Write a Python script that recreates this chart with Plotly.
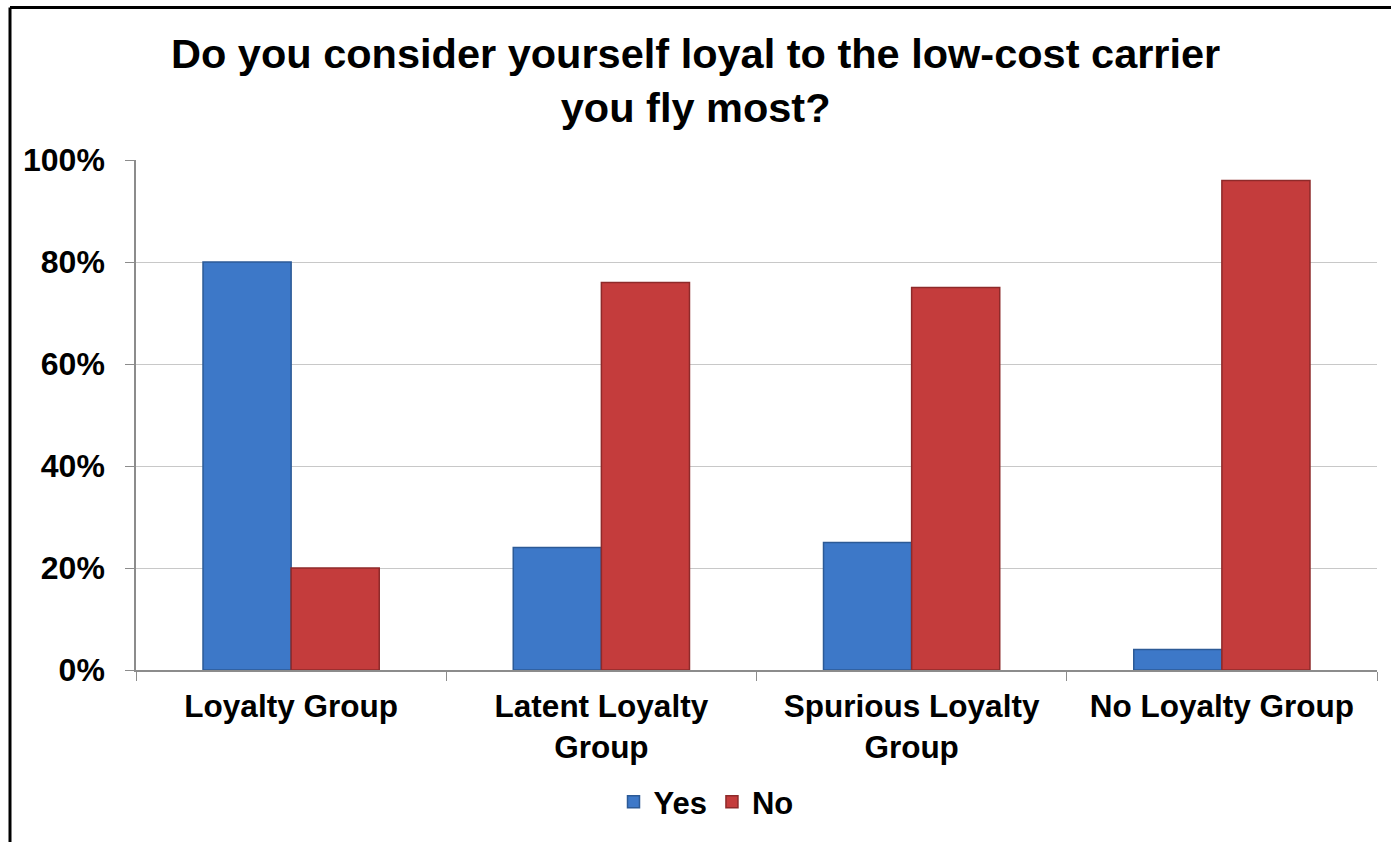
import plotly.graph_objects as go

# Survey data: share answering Yes / No per loyalty segment
categories = ["Loyalty Group", "Latent Loyalty<br>Group", "Spurious Loyalty<br>Group", "No Loyalty Group"]
yes_share = [0.80, 0.24, 0.25, 0.04]
no_share = [0.20, 0.76, 0.75, 0.96]
y_ticks = [0, 0.2, 0.4, 0.6, 0.8, 1.0]
y_tick_text = ["0%", "20%", "40%", "60%", "80%", "100%"]

W, H = 1391, 842
L, R, T, B = 136, 14, 160, 172
FONT = "Liberation Sans, Arial, sans-serif"

fig = go.Figure()
fig.add_trace(go.Bar(
    name="<b>Yes</b>", x=categories, y=yes_share,
    marker=dict(color="#3D78C8", line=dict(color="#2C5A96", width=1.5)),
))
fig.add_trace(go.Bar(
    name="<b>No</b>", x=categories, y=no_share,
    marker=dict(color="#C43C3C", line=dict(color="#8E2A2A", width=1.5)),
))

# convert pixel positions to paper coordinates
pw, ph = W - L - R, H - T - B
def px_x(px):
    return (px - L) / pw
def px_y(py):
    return (H - B - py) / ph

# outer frame (left and top edges)
frame = dict(color="black", width=3)
fig.add_shape(type="line", xref="paper", yref="paper",
              x0=px_x(10), x1=px_x(W + 20), y0=px_y(7.5), y1=px_y(7.5), line=frame)
fig.add_shape(type="line", xref="paper", yref="paper",
              x0=px_x(10), x1=px_x(10), y0=px_y(7.5), y1=px_y(H + 20), line=frame)

# chart title
fig.add_annotation(
    text="<b>Do you consider yourself loyal to the low-cost carrier<br>you fly most?</b>",
    xref="paper", yref="paper", x=px_x(695), y=px_y(28),
    xanchor="center", yanchor="top", showarrow=False, align="center",
    font=dict(size=41.5, family=FONT, color="black"),
)

fig.update_layout(
    width=W, height=H,
    margin=dict(l=L, r=R, t=T, b=B, autoexpand=False),
    paper_bgcolor="white", plot_bgcolor="white",
    font=dict(family=FONT, color="black", size=31),
    barmode="group", bargap=0.432, bargroupgap=0,
    legend=dict(
        orientation="h", xref="container", yref="container",
        x=706 / W, xanchor="center", y=1 - 802 / H, yanchor="middle",
        font=dict(size=31, family=FONT), itemwidth=30, traceorder="normal",
    ),
    showlegend=True,
)

fig.update_xaxes(
    tickson="boundaries", ticks="outside", ticklen=9, tickcolor="#8C8C8C",
    showline=True, linecolor="#8C8C8C", linewidth=1.5,
    tickfont=dict(size=31.5, family=FONT),
    tickprefix="<b>", ticksuffix="</b>",
    ticklabelstandoff=7,
    showgrid=False, automargin=False,
)
fig.update_yaxes(
    range=[0, 1], tickvals=y_ticks, ticktext=["<b>%s</b>" % t for t in y_tick_text],
    ticks="outside", ticklen=9, tickcolor="#8C8C8C",
    showline=True, linecolor="#8C8C8C", linewidth=1.5,
    showgrid=True, gridcolor="#C8C8C8", gridwidth=1.2,
    tickfont=dict(size=32, family=FONT),
    ticklabelstandoff=14,
    zeroline=False, automargin=False,
)

fig.write_html("out.html")
